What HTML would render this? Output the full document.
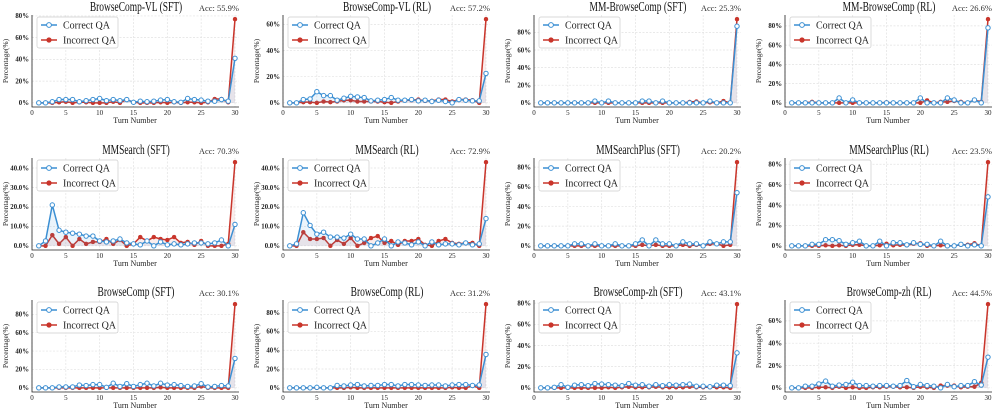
<!DOCTYPE html>
<html><head><meta charset="utf-8">
<style>
html,body{margin:0;padding:0;background:#fff;}
svg{display:block;font-family:"Liberation Serif",serif;}
</style></head>
<body>
<svg id="chart" width="996" height="414" viewBox="0 0 996 414" xmlns="http://www.w3.org/2000/svg"></svg>
<script>
const turns = Array.from({length:30},(_,k)=>k+1);
const xTicks = [0,5,10,15,20,25,30];
const titles = ["BrowseComp-VL (SFT)","BrowseComp-VL (RL)","MM-BrowseComp (SFT)","MM-BrowseComp (RL)",
"MMSearch (SFT)","MMSearch (RL)","MMSearchPlus (SFT)","MMSearchPlus (RL)",
"BrowseComp (SFT)","BrowseComp (RL)","BrowseComp-zh (SFT)","BrowseComp-zh (RL)"];
const accs = ["Acc: 55.9%","Acc: 57.2%","Acc: 25.3%","Acc: 26.6%","Acc: 70.3%","Acc: 72.9%","Acc: 20.2%","Acc: 23.5%","Acc: 30.1%","Acc: 31.2%","Acc: 43.1%","Acc: 44.5%"];

const correct1 = [0,0,1,3,3,3,1,2,3,4,2,3,2,3,0.5,1.5,1,1.5,2.5,3,1,0.5,4,3,2.5,1.5,1.5,3,1.5,41];
const incorrect1 = [0,0,0,0.5,1,0,0.5,0.5,0,0,0,1,0,3,0.5,0,0,0,0.5,0,0.5,0,0.5,0.5,0,0.5,3.5,3.5,0.5,77];
const correct2 = [0,0,2.5,3,8.5,5.5,5.5,2,3.5,5,4.5,4,1.5,2,2.5,4,2,2,2.5,1.5,2,1,2,1,0,2.5,2,1.5,1.5,22.5];
const incorrect2 = [0,0,0.5,0.5,0,1,0.5,1,2,2,1,1,1,1,0.5,0,1,2,2,2.5,1.5,1.5,2.5,2.5,1,2.5,2.5,2,0,64];
const correct3 = [0,0,0,0,0,0,0,0,2,0,2,0,0,0,0,2,2,0,2,0,0,0,0,0,0,2,0,0,0,87];
const incorrect3 = [0,0,0,0,0,0,0,0,0,0,0,0,0,0,0,0,0,0,0,0,0,0,1,1.5,0,0.5,0,2,0,95];
const correct4 = [0,0,0,0,0,0,0,5,0,3,0,0,0,0,0,0,0,0,0,5,0,0,0,5,3,0,0,3,0,78];
const incorrect4 = [0,0,0,1,0,0,0,0,0,0,0,0,0,0,0.5,0,0,0,0,0,2.5,0,1,1,2,1,0,3,1,87];
const correct5 = [0,2.5,21,8,7,6.5,6,5,5,2.5,2,2.5,3.5,1.5,1,0.5,2.5,0,2,0.5,1,0.5,1,1.5,1.5,1,1.5,3,0,11];
const incorrect5 = [0,0,5.5,1,4.5,0,3.5,1,2,2,3.5,1,3,0,1,4.5,2.5,4.5,3.5,3,4.5,1.5,2,0.5,2.5,0,0,0,1,43];
const correct6 = [0,1,17,10.5,6,7,4.5,4.5,4,6,3.5,3.5,0,1.5,3.5,0,2,1.5,0.5,2,0,2,0.5,1,1,0.5,1.5,0.5,1,14];
const incorrect6 = [0,0,7,3.5,3.5,4,0,3,1,4,0,1.5,4,5,1.5,2.5,0.5,2.5,2.5,3.5,0.5,0,2.5,3.5,1.5,1,1.5,1.5,0,43];
const correct7 = [0,0,0,0,0,2,2,0,2,0,0,2,0,0,2,6,0,6,2,2,0,4,2,2,0,4,2,4,4,54];
const incorrect7 = [0,0,0,0,0,0,0,0,0,0,0,0,0,0,0,1,0,1,0,0,0,1,0,1,0,2,2,0,1,85];
const correct8 = [0,0,0,1.5,1.5,6,6,5,1.5,3,4.5,0,0,4.5,0,3,3,1,3,1.5,1.5,0,4.5,0,0,1.5,0,1,0,48];
const incorrect8 = [0,0,0,0,0,0.5,0,0.5,0,1,1,0,0,0.5,2,0.5,1,0.5,2,2.5,0,0,0.5,0,0,1,1,2.5,0,82];
const correct9 = [0,0,0,1,1,1,3,2.5,3.5,3.5,0.5,5,1.5,4.5,1.5,3.5,5,2,5,3,3.5,2.5,1.5,2,4.5,1,1.5,2.5,2,32];
const incorrect9 = [0,0,0,0,0,0,0,0,0,0,0,0,0,0,0,0,0,0,0.5,0,0,0,0,0,1.5,0,0,0,0,91];
const correct10 = [0,0,0,0,0.5,0,0,2.5,2,3,3.5,2,2.5,2.5,3.5,3.5,2,3.5,3.5,3,2.5,3,3,2,3,3.5,3.5,2.5,3,35.5];
const incorrect10 = [0,0,0,0,0,0,0,0,0,0.5,0,0,0,0,0,0,0,0,0,0,0,0,0,0,0.5,0,0,2,0,89];
const correct11 = [0,0,0.5,3,0.5,2.5,3,2,4,3.5,3,2.5,2,4,2.5,3,1.5,3,2,3,2.5,3,3.5,1.5,1.5,1,2.5,2.5,2,33];
const incorrect11 = [0,0,0,0,0,0,0,0,0,0,0.5,0,0.5,1,0.5,0.5,0.5,1,0.5,0.5,0.5,0.5,1,0.5,0.5,0.5,0.5,0.5,0,79];
const correct12 = [0,0,1.5,1.5,3.5,6,1.5,2.5,3,5,2,2,1.5,2,2,1.5,2,6.5,1,3,2,1.5,0,3,1,2,2,5.5,2.5,27.5];
const incorrect12 = [0,0,0,0,0.5,0.5,0,1,0,0.5,0,0,0.5,0.5,1,1,0.5,0.5,0,1,0.5,0,2,2,2,0.5,1,1,4.5,75];

const correctSeries = [correct1,correct2,correct3,correct4,correct5,correct6,correct7,correct8,correct9,correct10,correct11,correct12];
const incorrectSeries = [incorrect1,incorrect2,incorrect3,incorrect4,incorrect5,incorrect6,incorrect7,incorrect8,incorrect9,incorrect10,incorrect11,incorrect12];

const NS="http://www.w3.org/2000/svg";
const svg=document.getElementById('chart');
const BLUE="#3b8fd3", RED="#c9352b";
function mk(tag,attrs,parent){const e=document.createElementNS(NS,tag);for(const k in attrs)e.setAttribute(k,attrs[k]);(parent||svg).appendChild(e);return e;}

const lefts=[32,283,534,785], tops=[15,158,300];
const W=207, H=92;
for(let p=0;p<12;p++){
  const L=lefts[p%4], T=tops[Math.floor(p/4)], B=T+H, R=L+W;
  const C=correctSeries[p], I=incorrectSeries[p];
  const mx=Math.max(...C,...I);
  const y0=-0.05*mx, y1=1.05*mx;
  const xs=v=>L+v*203/30;
  const ys=v=>B-(v-y0)/(y1-y0)*H;
  const g=mk('g',{});
  
  
  const step = mx<50?10:20;
  const dec = mx<50;
  for(const t of xTicks){
    const gl=mk('line',{x1:xs(t),x2:xs(t),y1:T,y2:B,stroke:'#e2e2e2','stroke-width':0.7,'stroke-dasharray':'2,1.5'},g);
    
    
  }
  for(let t=0;t<=y1;t+=step){
    const gl=mk('line',{x1:L,x2:R,y1:ys(t),y2:ys(t),stroke:'#e2e2e2','stroke-width':0.7,'stroke-dasharray':'2,1.5'},g);
    
    
    const tl=mk('text',{x:L-3,y:ys(t)+2.3,'font-size':6.8,'text-anchor':'end',fill:'#222','font-weight':'bold'},g);
    tl.textContent=(dec?t.toFixed(1):t)+'%';
    
    
  }
  for(const t of xTicks){
    const tl=mk('text',{x:xs(t),y:B+8,'font-size':7,'text-anchor':'middle',fill:'#222'},g);
    tl.textContent=t;
    
    
  }
  const ax=mk('path',{d:`M${L},${T}V${B}H${R}`,fill:'none',stroke:'#222','stroke-width':0.8},g);
  
  
  const draw=(data,color,fillCol,open,name)=>{
    const pts=turns.map((t,k)=>[xs(t),ys(data[k])]);
    const area=mk('path',{d:'M'+pts.map(q=>q.join(',')).join('L')+`L${pts[pts.length-1][0]},${ys(0)}L${pts[0][0]},${ys(0)}Z`,fill:fillCol,stroke:'none'},g);
    
    
    const ln=mk('polyline',{points:pts.map(q=>q.join(',')).join(' '),fill:'none',stroke:color,'stroke-width':1.5,'stroke-linejoin':'round'},g);
    
    
    for(const q of pts){
      const c=mk('circle',{cx:q[0],cy:q[1],r:open?2.2:2,fill:open?'#fff':color,stroke:color,'stroke-width':open?1:0.5},g);
      
      
    }
  };
  draw(I,RED,'rgba(201,53,43,0.09)',false,'incorrect-qa');
  draw(C,BLUE,'rgba(59,143,211,0.1)',true,'correct-qa');
  const ti=mk('text',{x:L+104,y:T-4,'font-size':13.5,'text-anchor':'middle',fill:'#111'},g);
  ti.textContent=titles[p];
  
  
  const nat=ti.getComputedTextLength();
  if(nat>0){ti.setAttribute('textLength',(nat*0.70).toFixed(1));ti.setAttribute('lengthAdjust','spacingAndGlyphs');}
  const ac=mk('text',{x:R,y:T-4,'font-size':8.5,'text-anchor':'end',fill:'#333'},g);
  ac.textContent=accs[p];
  
  
  const xl=mk('text',{x:L+103,y:B+16,'font-size':8,'text-anchor':'middle',fill:'#222'},g);
  xl.textContent='Turn Number';
  
  
  const yx=L-24, yy=T+H/2;
  const yl=mk('text',{x:yx,y:yy,'font-size':7.5,'text-anchor':'middle',fill:'#222',transform:`rotate(-90 ${yx} ${yy})`},g);
  yl.textContent='Percentage(%)';
  
  
  const lg=mk('g',{},g);
  
  
  mk('rect',{x:L+5,y:T+2,width:81,height:31,rx:2,fill:'#fff','fill-opacity':0.9,stroke:'#ccc','stroke-width':0.7},lg);
  const ent=[[BLUE,true,'Correct QA',T+10],[RED,false,'Incorrect QA',T+25]];
  for(const [col,open,lab,yy2] of ent){
    const e=mk('g',{},lg);
    
    
    mk('line',{x1:L+9,x2:L+25,y1:yy2,y2:yy2,stroke:col,'stroke-width':1.5},e);
    mk('circle',{cx:L+17,cy:yy2,r:open?2.4:2.1,fill:open?'#fff':col,stroke:col,'stroke-width':1},e);
    const tx=mk('text',{x:L+31,y:yy2+3.5,'font-size':10,fill:'#222'},e);
    tx.textContent=lab;
  }
}
</script>
</body></html>
